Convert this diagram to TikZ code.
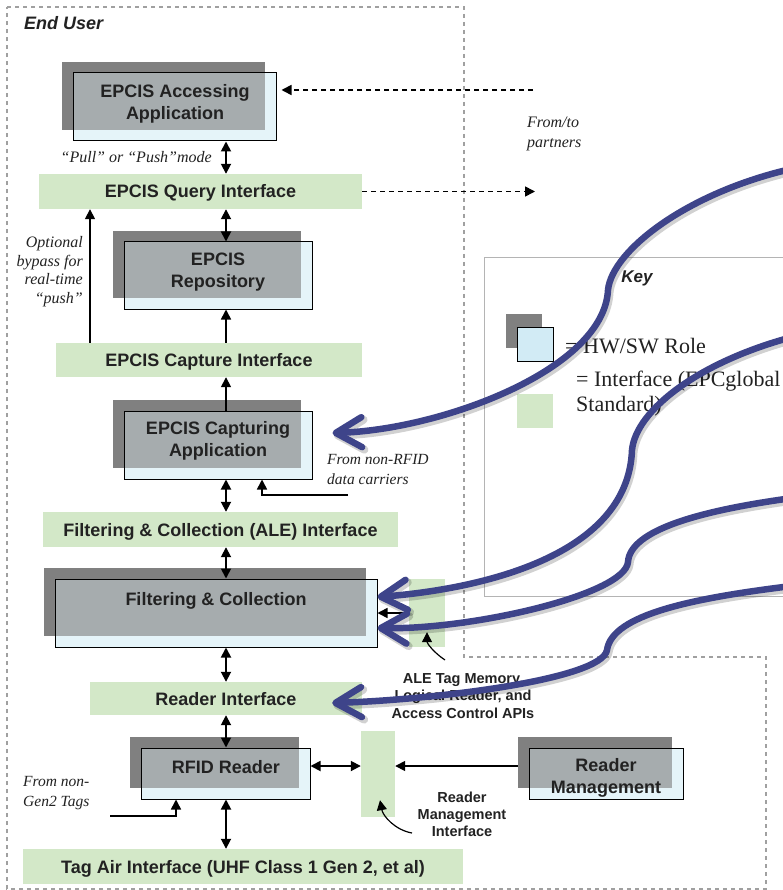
\documentclass[tikz,border=0pt]{standalone}
\usepackage{fontspec}
\setmainfont{Liberation Serif}
\setsansfont{Liberation Sans}
\usetikzlibrary{arrows.meta,calc}
\definecolor{roleblue}{HTML}{E5F4F9}
\definecolor{keyblue}{HTML}{D2EBF5}
\definecolor{shadowgray}{HTML}{808080}
\definecolor{ifgreen}{HTML}{D3E8C8}
\definecolor{bluearrow}{HTML}{3E448A}
\definecolor{txt}{HTML}{222222}
\definecolor{bordergray}{HTML}{A0A0A0}
\definecolor{keygray}{HTML}{B4B4B4}
\begin{document}
\begin{tikzpicture}[x=1pt,y=-1pt,
  role/.style={draw=black, line width=1pt, fill=roleblue, inner sep=0pt,
    preaction={fill=shadowgray, transform canvas={shift={(-11pt,11pt)}}},
    postaction={fill=shadowgray, fill opacity=0.62, draw=none, transform canvas={shift={(-11pt,11pt)}}},
    postaction={draw=black, line width=1pt}},
  keyrole/.style={draw=black, line width=1pt, fill=keyblue, inner sep=0pt,
    preaction={fill=shadowgray, transform canvas={shift={(-11pt,13pt)}}}},
  iface/.style={fill=ifgreen, draw=none, inner sep=0pt, text=txt,
    font=\sffamily\bfseries\fontsize{18}{22}\selectfont, text height=13pt, text depth=0pt},
  boxtext/.style={font=\sffamily\bfseries\fontsize{18}{22}\selectfont, text=txt, align=center, inner sep=0pt},
  note/.style={font=\rmfamily\itshape\fontsize{16}{18.5}\selectfont, text=txt, inner sep=0pt},
  smalllab/.style={font=\sffamily\bfseries\fontsize{14.5}{17.5}\selectfont, text=txt, align=center, inner sep=0pt},
  keytext/.style={font=\rmfamily\fontsize{22}{25}\selectfont, text=txt, inner sep=0pt},
  dbl/.style={{Triangle[length=10pt,width=10pt]}-{Triangle[length=10pt,width=10pt]}, line width=1.8pt},
  sgl/.style={-{Triangle[length=10pt,width=10pt]}, line width=1.6pt},
  part/.style={-{Triangle[length=10pt,width=10pt]}, dash pattern=on 5pt off 4pt, line width=1.6pt},
  big/.style={draw=bluearrow, line width=6.5pt, line cap=round,
    -{Straight Barb[length=26pt,width=30pt,round]},
    preaction={draw=black, draw opacity=0.18, line width=8pt, transform canvas={shift={(1.5pt,-2.5pt)}}}}
]
\useasboundingbox (0,0) rectangle (783,890);
\clip (0,0) rectangle (783,890);
\fill[white] (0,0) rectangle (783,890);

% outer End User boundary
\draw[bordergray, line width=1.2pt, dash pattern=on 4pt off 4pt]
  (7,7) -- (464,7) -- (464,657) -- (766,657) -- (766,889) -- (7,889) -- cycle;
\node[anchor=base west, font=\sffamily\bfseries\itshape\fontsize{18}{20}\selectfont, text=txt, inner sep=0pt] (enduser) at (24,30) {End User};

% key
\node[draw=keygray, line width=1pt, minimum width=420pt, minimum height=339pt, anchor=north west, inner sep=0pt] (keybox) at (484,257) {};
\node[font=\sffamily\bfseries\itshape\fontsize{17}{20}\selectfont, text=txt, text height=12pt, text depth=0pt, inner sep=0pt] (keyt) at (637,277) {Key};
\node[keyrole, minimum width=36pt, minimum height=34pt] (keyr) at (535,344) {};
\node[fill=ifgreen, minimum width=36pt, minimum height=34pt, inner sep=0pt] (keyg) at (535,411) {};
\node[keytext, anchor=base west] (keyrt) at (565,353) {= HW/SW Role};
\node[keytext, anchor=north west, align=left] (keyit) at (576,371) {= Interface (EPCglobal\\Standard)};

% boxes
\node[role, minimum width=203pt, minimum height=68pt] (acc) at (174.5,107) {};
\node[boxtext] (acct) at (175,104) {EPCIS Accessing\\Application};
\node[iface, minimum width=323pt, minimum height=35pt] (qi) at (200.5,191.5) {EPCIS Query Interface};
\node[role, minimum width=188pt, minimum height=67pt] (rep) at (218,275.5) {};
\node[boxtext] (rept) at (218,272.5) {EPCIS\\Repository};
\node[iface, minimum width=306pt, minimum height=34pt] (ci) at (209,360) {EPCIS Capture Interface};
\node[role, minimum width=188pt, minimum height=68pt] (cap) at (218,445) {};
\node[boxtext] (capt) at (218,441) {EPCIS Capturing\\Application};
\node[iface, minimum width=355pt, minimum height=35pt] (alei) at (220.5,529.5) {Filtering \& Collection (ALE) Interface};
\node[role, minimum width=322pt, minimum height=68pt] (fc) at (216,613) {};
\node[boxtext, text height=13pt, text depth=0pt] (fct) at (216,598.5) {Filtering \& Collection};
\node[iface, minimum width=36pt, minimum height=68pt] (aleg) at (427,613) {};
\node[iface, minimum width=272pt, minimum height=33pt] (ri) at (226,698.5) {Reader Interface};
\node[role, minimum width=169pt, minimum height=51pt] (rfid) at (225.5,773.5) {};
\node[boxtext, text height=13pt, text depth=0pt] (rfidt) at (226,766.5) {RFID Reader};
\node[iface, minimum width=34pt, minimum height=86pt] (rmi) at (378,774) {};
\node[role, minimum width=154pt, minimum height=51pt] (rm) at (606,773.5) {};
\node[boxtext] (rmt) at (606,778) {Reader\\Management};
\node[iface, minimum width=440pt, minimum height=35pt] (tai) at (243,866.5) {Tag Air Interface (UHF Class 1 Gen 2, et al)};

% labels
\node[note, anchor=base east] (pullpush) at (212,163) {“Pull” or “Push”mode};
\node[note, anchor=north east, align=right] (bypass) at (83,236.5) {Optional\\bypass for\\real-time\\“push”};
\node[font=\rmfamily\itshape\fontsize{16}{20}\selectfont, text=txt, inner sep=0pt, anchor=north west, align=left] (partners) at (527,117) {From/to\\partners};
\node[note, anchor=north west, align=left, font=\rmfamily\itshape\fontsize{15.5}{20}\selectfont] (nonrfid) at (327,454) {From non-RFID\\data carriers};
\node[note, anchor=north west, align=left, font=\rmfamily\itshape\fontsize{15.5}{20}\selectfont] (nongen) at (23,776) {From non-\\Gen2 Tags};
\node[smalllab] (apis) at (463,696) {ALE Tag Memory,\\Logical Reader, and\\Access Control APIs};
\node[smalllab, font=\sffamily\bfseries\fontsize{14.5}{17}\selectfont] (rmil) at (462,814) {Reader\\Management\\Interface};

% thin connectors
\coordinate (col) at (226,0);
\coordinate (byx) at (90,0);
\draw[dbl] (acc.south -| col) -- (qi.north -| col);
\draw[dbl] (qi.south -| col) -- (rep.north -| col);
\draw[sgl] (ci.north -| byx) -- (qi.south -| byx);
\draw[sgl] (ci.north -| col) -- (rep.south -| col);
\draw[sgl] (cap.north -| col) -- (ci.south -| col);
\coordinate (nrs) at (348,495);
\coordinate (nrx) at (262,0);
\draw[sgl] (nrs) -| (cap.south -| nrx);
\draw[dbl] (cap.south -| col) -- (alei.north -| col);
\draw[dbl] (alei.south -| col) -- (fc.north -| col);
\draw[sgl] (aleg.west) -- (fc.east |- aleg.west);
\coordinate (alet) at (445,660);
\draw[sgl, line width=1.2pt] (alet) .. controls (433,652) and (427,643) .. ($(aleg.south)+(0,-15)$);
\draw[dbl] (fc.south -| col) -- (ri.north -| col);
\draw[dbl] (ri.south -| col) -- (rfid.north -| col);
\draw[dbl] (rfid.south -| col) -- (tai.north -| col);
\coordinate (ngs) at (110,816);
\coordinate (ngx) at (176,0);
\draw[sgl] (ngs) -| (rfid.south -| ngx);
\coordinate (yr) at (0,766);
\coordinate (rmw) at ([xshift=-11pt]rm.west);
\draw[dbl] (rfid.east |- yr) -- (rmi.west |- yr);
\draw[sgl] (rmw |- yr) -- (rmi.east |- yr);
\coordinate (rmlt) at (412,833);
\draw[sgl, line width=1.2pt] (rmlt) .. controls (395,830) and (383,816) .. ($(rmi.south)+(2,-17)$);

% partner dashed arrows
\coordinate (pin) at (533,90);
\coordinate (pout) at (535,191.5);
\draw[part, shorten >=5pt] (pin) -- (acc.east |- pin);
\draw[part] (qi.east |- pout) -- (pout);

% big blue arrows
\coordinate (sA) at (800,167);
\coordinate (sB) at (800,335);
\coordinate (sC) at (800,497);
\coordinate (sD) at (800,585);
\draw[big] (sA) .. controls (690,190) and (612,250) .. (608,290) .. controls (604,370) and (440,430) .. ($(cap.east)+(20,-12)$);
\draw[big] (sB) .. controls (700,360) and (636,410) .. (632,450) .. controls (628,560) and (470,590) .. ($(fc.east)+(0,-16)$);
\draw[big] (sC) .. controls (700,510) and (630,530) .. (628,562) .. controls (625,595) and (470,630) .. ($(fc.east)+(0,15)$);
\draw[big] (sD) .. controls (690,598) and (612,615) .. (607,650) .. controls (602,680) and (430,700) .. ($(ri.east)+(-30,4.5)$);
\end{tikzpicture}
\end{document}
